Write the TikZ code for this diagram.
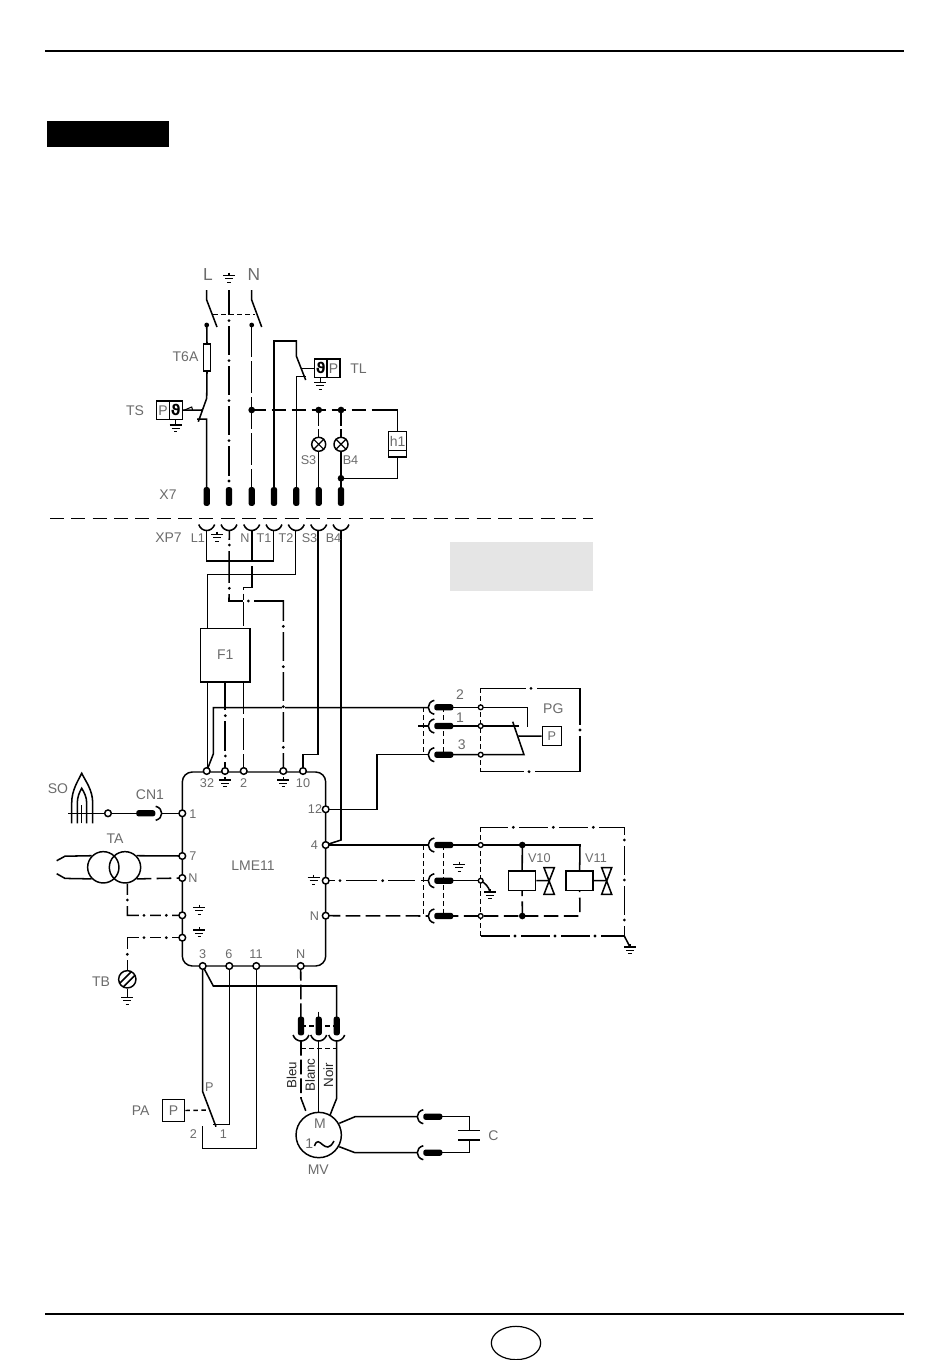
\documentclass[tikz,border=0pt]{standalone}
\usepackage{fontspec}
\setmainfont{Liberation Sans}
\newfontfamily\thfont{DejaVu Sans}
\usetikzlibrary{shapes.geometric}
\pgfdeclarelayer{background}
\pgfsetlayers{background,main}
\definecolor{lab}{gray}{0.42}
\newcommand\gnd[2]{\draw[gl] (#1,{#2-3})--(#1,#2) ({#1-6},#2)--({#1+6},#2) ({#1-4},{#2+3.3})--({#1+4},{#2+3.3}) ({#1-1.7},{#2+6.6})--({#1+1.7},{#2+6.6});}
\newcommand\cupD[2]{\draw[wire] ({#1-8},#2) .. controls ({#1-5},{#2+8}) and ({#1+5},{#2+8}) .. ({#1+8},#2);}
\newcommand\cupL[2]{\draw[wire] ({#1+6},{#2-7}) .. controls ({#1-2},{#2-5}) and ({#1-2},{#2+5}) .. ({#1+6},{#2+7});}
\newcommand\cupR[2]{\draw[wire] ({#1-6},{#2-7}) .. controls ({#1+2},{#2-5}) and ({#1+2},{#2+5}) .. ({#1-6},{#2+7});}
\newcommand\vdot[2]{\fill[white] ({#1-1.4},{#2-5.5}) rectangle ({#1+1.4},{#2+5.5}); \fill[black] (#1,#2) circle[radius=1.15pt];}
\newcommand\hdot[2]{\fill[white] ({#1-5.5},{#2-1.4}) rectangle ({#1+5.5},{#2+1.4}); \fill[black] (#1,#2) circle[radius=1.15pt];}
\tikzset{
 wire/.style={line width=1.15pt,line join=miter},
 gl/.style={line width=0.8pt},
 dd/.style={wire},
 ddl/.style={wire,dash pattern=on 24pt off 3pt},
 ld/.style={wire,dash pattern=on 11pt off 4pt},
 sd/.style={line width=1pt,dash pattern=on 3.4pt off 2.6pt},
 term/.style={circle,draw,fill=white,line width=1.1pt,inner sep=0,minimum size=5pt},
 sterm/.style={circle,draw,fill=white,line width=1pt,inner sep=0,minimum size=3.6pt},
 jn/.style={circle,fill=black,inner sep=0,minimum size=5pt},
 vplug/.style={fill=black,rounded corners=1.6pt,inner sep=0,minimum width=4.6pt,minimum height=14pt},
 hplug/.style={fill=black,rounded corners=1.6pt,inner sep=0,minimum width=14.2pt,minimum height=4.6pt},
 lbl/.style={text=lab,inner sep=0,font=\fontsize{10.5}{12}\selectfont},
 lbs/.style={text=lab,inner sep=0,font=\fontsize{9.5}{11}\selectfont},
 lbb/.style={text=lab,inner sep=0,font=\fontsize{13}{15}\selectfont},
 lbk/.style={text=black!85,inner sep=0,rotate=90,font=\fontsize{10}{12}\selectfont},
 box/.style={draw,line width=1.1pt,inner sep=0},
 thermo/.style={inner sep=0,font=\thfont\bfseries\fontsize{11}{12}\selectfont},
}
\begin{document}
\begin{tikzpicture}[x=0.75pt,y=-0.75pt]
\useasboundingbox (0,0) rectangle (950,1360);
% header / footer
\coordinate (hl) at (45,51); \coordinate (hr) at (904,51);
\coordinate (fl) at (45,1314); \coordinate (fr) at (904,1314);
\draw[line width=1.1pt] (hl)--(hr) (fl)--(fr);
\node[fill=black,inner sep=0,minimum width=91.5pt,minimum height=19.5pt] (blk) at (108,134) {};
\node[fill=black!10,inner sep=0,minimum width=107.3pt,minimum height=36.8pt] (gry) at (521.5,566.5) {};
\node[ellipse,draw,line width=0.9pt,inner sep=0,minimum width=37pt,minimum height=25pt] (pg) at (516,1343) {};
% separator
\coordinate (sl) at (50,518.3); \coordinate (sr) at (593,518.3);
\draw[wire,dash pattern=on 10.5pt off 5.5pt] (sl)--(sr);

% main nodes ------------------------------------------------
\node[box,rounded corners=7.5pt,minimum width=107.55pt,minimum height=145.5pt] (lme) at (254,869) {};
\node[lbl] (lmet) at (253,866) {LME11};
\node[box,minimum width=37pt,minimum height=40.3pt,font=\fontsize{10.5}{12}\selectfont,text=lab] (f1) at (225.35,655.15) {F1};
\node[box,minimum width=5.6pt,minimum height=20.5pt] (fuse) at (207,357.5) {};
\node[box,fill=white,minimum width=19.2pt,minimum height=13.7pt] (ts) at (169.5,410.15) {};
\node[box,fill=white,minimum width=19.2pt,minimum height=13.7pt] (tl) at (327.15,368.3) {};
\node[box,fill=white,minimum width=13.5pt,minimum height=19pt] (h1) at (397.7,444.35) {};
\node[box,fill=white,circle,minimum size=10.5pt] (ls3) at (318.7,444.3) {};
\node[box,fill=white,circle,minimum size=10.5pt] (lb4) at (341,444.3) {};
\node[box,text=lab,minimum size=14.25pt,font=\fontsize{9.5}{11}\selectfont] (ppg) at (551.8,736.2) {P};
\node[box,text=lab,minimum size=16.8pt,font=\fontsize{10.5}{12}\selectfont] (ppa) at (173.5,1110.5) {P};
\node[box,fill=white,minimum width=20.25pt,minimum height=14.5pt] (c10) at (522.2,880.65) {};
\node[box,fill=white,minimum width=20.25pt,minimum height=14.5pt] (c11) at (579.65,880.65) {};
\node[box,circle,minimum size=23.5pt] (ta1) at (103.3,867.3) {};
\node[box,circle,minimum size=23.5pt] (ta2) at (125,867.3) {};
\node[box,circle,fill=white,minimum size=13pt] (tb) at (127.3,979.3) {};
\node[box,circle,fill=white,minimum size=34pt] (mv) at (318.7,1135) {};

% X7 plugs
\foreach \n/\x in {xa/206.7,xb/229,xc/251.7,xd/274,xe/296.3,xf/318.7,xg/341}{
  \node[vplug] (\n) at (\x,496.5) {};}
% terminals
\foreach \n/\x/\y in {t32/206.7/771,tge/225/771,t2/243.7/771,tgf/283.3/771,t10/303/771,
  t1/182.3/813.3,t7/182.3/856,tNl/182.3/878,tg1/182.3/915.3,tg2/182.3/937.7,
  t12/325.7/809.3,t4/325.7/845,tgr/325.7/880.7,tNr/325.7/915.7,
  t3/202.7/966,t6/229.3/966,t11/256.3/966,tNb/300.7/966,so/108/813.3}{
  \node[term] (\n) at (\x,\y) {};}
\foreach \n/\x/\y in {p2/480.7/707.3,p1/480.7/726,p3/480.7/754.7,v1/480.7/845,v2/480.7/880.7,v3/480.7/916}{
  \node[sterm] (\n) at (\x,\y) {};}
\foreach \n/\x/\y in {js/251.7/410,j3/318.7/410,j4/341/410,jh/341/478.3,jv1/522.3/845,jv2/522.3/916}{
  \node[jn] (\n) at (\x,\y) {};}
\foreach \n/\x/\y in {cl/206.7/325,cn/251.7/325}{\node[circle,fill=black,inner sep=0,minimum size=3.6pt] (\n) at (\x,\y) {};}
% plugs
\foreach \n/\y in {q2/707.3,q1/726,q3/754.7,r1/845,r2/880.7,r3/916}{\node[hplug] (\n) at (443.8,\y) {};}
\node[hplug] (cn1) at (145.8,813.3) {};
\node[hplug] (ca) at (432.8,1116.7) {};
\node[hplug] (cb) at (432.8,1152.7) {};
\foreach \n/\x in {ma/301,mb/318.7,mc/336.7}{\node[vplug] (\n) at (\x,1026) {};}

% free coordinates
\coordinate (lt) at (206.7,290); \coordinate (lm) at (206.7,300); \coordinate (le) at (217,327);
\coordinate (nt) at (251.7,290); \coordinate (nm) at (251.7,300); \coordinate (ne) at (261.7,327);
\coordinate (et) at (229,290);
\coordinate (sa) at (206.7,398.3); \coordinate (sb) at (198.3,421.7); \coordinate (sc) at (206.7,419.2); \coordinate (sd) at (197,419.2);
\coordinate (lnk) at (202.7,410);
\coordinate (tla) at (296.3,356); \coordinate (tlb) at (305.7,380); \coordinate (tlc) at (305.7,376.7); \coordinate (tld) at (300.5,368.3);
\coordinate (hr1) at (397.7,410);
\coordinate (xs) at (229,601); \coordinate (xs2) at (283.3,601);

\begin{pgfonlayer}{background}
 % mains
 \draw[wire] (lt)--(lm)--(le) (nt)--(nm)--(ne);
 \draw[sd] (213,314.3)--(255,314.3);
 \draw[wire] (cl.center)--(fuse.north) (fuse.south)--(sa)--(sb) (sd)--(sc)--(xa.center);
 \draw[dd] (et)--(xb.center);
 \draw[ddl] (cn.center)--(xc.center);
 \draw[wire] (ts.east)--(lnk);
 \draw[line width=.8pt] (183.5,410.5)--(191.7,407)--(192.7,410.5);
 \draw[wire] (xd.center)--(274,341)--(296.3,341)--(tla)--(tlb);
 \draw[wire] (xe.center)--(296.3,376.7)--(tlc);
 \draw[wire] (tld)--(tl.west);
 \draw[ld] (js.center)--(hr1);
 \draw[wire] (385,410)--(hr1)--(h1.north);
 \draw[wire] (h1.south)--(397.7,478.3)--(jh.center);
 \draw[wire,dash pattern=on 12pt off 2.5pt] (j3.center)--(ls3.north);
 \draw[wire,dash pattern=on 12pt off 2.5pt] (j4.center)--(lb4.north);
 \draw[wire] (ls3.south)--(xf.center) (lb4.south)--(xg.center);
 % below separator
 \draw[wire] (206.7,530)--(206.7,561)--(273.7,561)--(273.7,530);
 \draw[wire] (295.7,530)--(295.7,574.3)--(207.3,574.3)--(207.3,628.3);
 \draw[dd] (229.3,530)--(xs)--(xs2)--(tgf.center);
 \draw[ddl] (252,530)--(252,587.7)--(243.7,587.7)--(243.7,628.3);
 \draw[wire] (207.3,682)--(207.3,771);
 \draw[dd] (225,682)--(tge.center);
 \draw[ddl] (243.7,682)--(t2.center);
 \draw[wire] (318,530)--(318,754.7)--(303,754.7)--(t10.center);
 \draw[wire] (341,530)--(341,840)--(t4.center);
 \draw[wire] (t32.center)--(213.3,754)--(213.3,707.7)--(428.3,707.7);
 % PG
 \draw[wire] (t12.center)--(377,809.3)--(377,754.7)--(428.3,754.7);
 \draw[wire] (418.3,726)--(428.3,726);
 \draw[sd] (423.3,707.3)--(423.3,754.7) (443.3,707.3)--(443.3,754.7);
 \draw[wire] (q2.center)--(p2.center)--(527.7,707.3)--(527.7,726.7);
 \draw[wire] (q1.center)--(p1.center)--(519,726);
 \draw[wire] (q3.center)--(p3.center)--(524,754.7)--(512.7,721.7);
 \draw[wire] (518.3,736)--(ppg.west);
 \draw[dd] (480.7,688.3)--(580,688.3)--(580,771.7)--(480.7,771.7);
 \draw[sd,line width=1.1pt] (480.7,688.3)--(480.7,771.7);
 % valves
 \draw[wire] (t4.center)--(428.3,845);
 \draw[dd] (tgr.center)--(415,880.7) (421,880.7)--(428.3,880.7);
 \draw[ld] (tNr.center)--(428.3,916);
 \draw[sd] (423.3,845)--(423.3,916) (443.3,845)--(443.3,916);
 \draw[wire] (r1.center)--(v1.center)--(580,845)--(c11.north);
 \draw[wire] (jv1.center)--(c10.north);
 \draw[wire] (r2.center)--(v2.center);
 \draw[wire] (v2.center) .. controls (485,883) and (489,887) .. (490,892);
 \draw[ld] (r3.center)--(580,916)--(c11.south);
 \draw[ld] (jv2.center)--(c10.south);
 \draw[wire] (c10.east)--(549,880.7) (c11.east)--(606.7,880.7);
 \draw[dd] (480.7,827.3)--(624.3,827.3)--(624.3,936)--(480.7,936);
 \draw[sd,line width=1.1pt] (480.7,827.3)--(480.7,936);
 \draw[wire] (624.3,936)--(630,947);
 % left
 \draw[wire] (68,813.3)--(so.center)--(cn1.center);
 \draw[wire] (161.7,813.3)--(t1.center);
 \draw[wire] (ta1.135)--(65,856.2)--(56.7,860.7) (ta1.225)--(65,878.4)--(56.7,873.7);
 \draw[wire] (ta2.45)--(t7.center);
 \draw[ld] (ta2.-45)--(tNl.center);
 \draw[dd] (ta2.-82)--(127.3,915.3)--(tg1.center);
 \draw[dd] (tg2.center)--(127.3,937.7)--(tb.north);
 \draw[wire] (tb.south)--(127.3,995);
 % bottom
 \draw[wire] (t3.center)--(202.7,1091.7)--(216,1126.7);
 \draw[wire] (t3.center)--(213.3,986)--(336.7,986)--(mc.center);
 \draw[wire] (t6.center)--(229.3,1124.3)--(212.7,1124.3);
 \draw[wire] (t11.center)--(256.3,1148.7)--(202.7,1148.7)--(202.7,1125.7);
 \draw[sd,line width=1.1pt] (ppa.east)--(210,1110);
 \draw[ddl,dash pattern=on 11pt off 3pt] (tNb.center)--(ma.center);
 \draw[wire] (318.7,1011.7)--(mb.center);
 \draw[sd] (301,1026)--(336.7,1026) (301,1048.3)--(336.7,1048.3);
 \draw[ddl,dash pattern=on 11pt off 3pt] (301,1041)--(301,1098.3)--(306.7,1113.3);
 \draw[wire] (318.7,1041)--(mb.center |- mv.north);
 \draw[wire] (336.7,1041)--(336.7,1098.3)--(330,1115.2);
 \draw[wire] (339.3,1123.3)--(355,1116.7)--(417.3,1116.7);
 \draw[wire] (339.3,1146.7)--(355,1152.7)--(417.3,1152.7);
 \draw[wire] (ca.center)--(469.3,1116.7)--(469.3,1130.7);
 \draw[wire] (cb.center)--(469.3,1152.7)--(469.3,1140);
\end{pgfonlayer}

% dash-dot line dots
\foreach \x/\y in {229/320.7,229/360.7,229/400.7,229/440.7,229/481,229.3/545,229.3/588.3,
  283.3/626.3,283.3/666.7,283.3/706.7,283.3/747.3,225.3/715.7,225.3/756,
  127.3/900,127.3/954.3,580/730,624.3/840,624.3/880,624.3/920}{\vdot{\x}{\y}}
\foreach \x/\y in {248.3/601,144/915.3,166.3/915.3,144/937.7,166.3/937.7,340/880.7,382.7/880.7,
  531/688.3,529/771.7,513.3/827.3,553.3/827.3,593.3/827.3,515/936,555/936,595/936}{\hdot{\x}{\y}}

% X7 cups
\foreach \x in {206.7,229,251.7,274,296.3,318.7,341}{\cupD{\x}{524.5}}
\foreach \x in {301,318.7,336.7}{\cupD{\x}{1035}}
\foreach \y in {707.3,726,754.7,845,880.7,916}{\cupL{428.3}{\y}}
\cupL{417.3}{1116.7}\cupL{417.3}{1152.7}
\cupR{161.7}{813.3}
% capacitor
\draw[wire] (458.3,1130.7)--(480,1130.7) (458.3,1140)--(480,1140);
% fuse, h1, switches
\draw[line width=1pt] (388.7,450.7)--(406.7,450.7);
\draw[line width=1pt] (ts.north)--(ts.south) (tl.north)--(tl.south);
\draw[wire] (175.7,419.3)--(175.7,425);
\draw[wire] (320.3,377)--(320.3,382);
% lamps
\draw[line width=.9pt] (ls3.45)--(ls3.225) (ls3.135)--(ls3.-45) (lb4.45)--(lb4.225) (lb4.135)--(lb4.-45);
% TB hatch
\draw[line width=1.1pt] (119.6,983.4)--(131.4,971.6) (123.2,987)--(135,975.2);
% flame
\draw[wire] (71.7,823.3)--(71.7,803) .. controls (71.7,790) and (78,781) .. (81.7,773.3) .. controls (85.5,781) and (92.7,790) .. (92.7,803)--(92.7,823.3);
\draw[wire] (77.3,823.3)--(77.3,803) .. controls (77.3,797) and (79.5,792) .. (81.7,788.3) .. controls (84,792) and (86.7,797) .. (86.7,803)--(86.7,823.3);
\draw[wire] (81.7,823.3)--(81.7,805);
% valves
\draw[wire] (544,867.7)--(554.3,867.7)--(544,894.3)--(554.3,894.3)--cycle;
\draw[wire] (601.7,867.7)--(611.7,867.7)--(601.7,894.3)--(611.7,894.3)--cycle;
% motor tilde
\draw[wire] (314.5,1146) .. controls (319,1132) and (325,1158) .. (334,1141);
% grounds
\gnd{229}{275.5}\gnd{175.7}{425}\gnd{320.3}{382.5}\gnd{217}{534.5}
\gnd{225}{780}\gnd{283.3}{780}\gnd{199.3}{907.5}\gnd{199.3}{930}\gnd{313.5}{877.5}
\gnd{127.3}{997.5}\gnd{459.3}{864.5}\gnd{490}{892}\gnd{630}{947}
% thermo glyphs
\node[thermo] (th1) at (175.7,409.5) {ϑ};
\node[thermo] (th2) at (320.7,367.7) {ϑ};
% labels
\node[lbb] at (208,275) {L}; \node[lbb] at (254,275) {N};
\node[lbl] at (185.5,357) {T6A};
\node[lbl] at (135,410.5) {TS};
\node[lbl] at (163,410.2) {P};
\node[lbl] at (333.5,368.3) {P};
\node[lbl] at (358.5,368.5) {TL};
\node[lbl] at (397.7,441) {h1};
\node[lbs] at (308.5,460) {S3};
\node[lbs] at (350.5,460) {B4};
\node[lbl] at (168,495) {X7};
\node[lbl] at (168.5,537.5) {XP7};
\node[lbs] at (198,538.5) {L1}; \node[lbs] at (245,538.5) {N}; \node[lbs] at (264,538.5) {T1};
\node[lbs] at (286,538.5) {T2}; \node[lbs] at (309.5,538.5) {S3}; \node[lbs] at (333.5,538.5) {B4};
\node[lbs] at (207,783) {32}; \node[lbs] at (243.7,783) {2}; \node[lbs] at (303,783) {10};
\node[lbs] at (193,814) {1}; \node[lbs] at (193,856) {7}; \node[lbs] at (193,878) {N};
\node[lbs] at (315,809.5) {12}; \node[lbs] at (314.5,845) {4}; \node[lbs] at (314.5,916) {N};
\node[lbs] at (202.7,954) {3}; \node[lbs] at (229,954) {6}; \node[lbs] at (256,954) {11}; \node[lbs] at (300.7,954) {N};
\node[lbl] at (58,789) {SO};
\node[lbl] at (150,794.5) {CN1};
\node[lbl] at (115,839) {TA};
\node[lbl] at (101,982) {TB};
\node[lbl] at (553.3,709) {PG};
\node[lbl] at (460,695) {2}; \node[lbl] at (460,717.5) {1}; \node[lbl] at (461.7,745) {3};
\node[lbs] at (539.3,858.3) {V10}; \node[lbs] at (596,858.3) {V11};
\node[lbs] at (209.3,1086.7) {P};
\node[lbl] at (140.7,1110.7) {PA};
\node[lbs] at (193.3,1134) {2}; \node[lbs] at (223.3,1134) {1};
\node[lbl] at (320,1124) {M}; \node[lbl] at (309.3,1143.3) {1};
\node[lbl] at (318.3,1170) {MV};
\node[lbl] at (493.3,1135.7) {C};
\node[lbk] at (291.7,1075) {Bleu}; \node[lbk] at (310,1075) {Blanc}; \node[lbk] at (328.3,1075) {Noir};
\end{tikzpicture}
\end{document}
